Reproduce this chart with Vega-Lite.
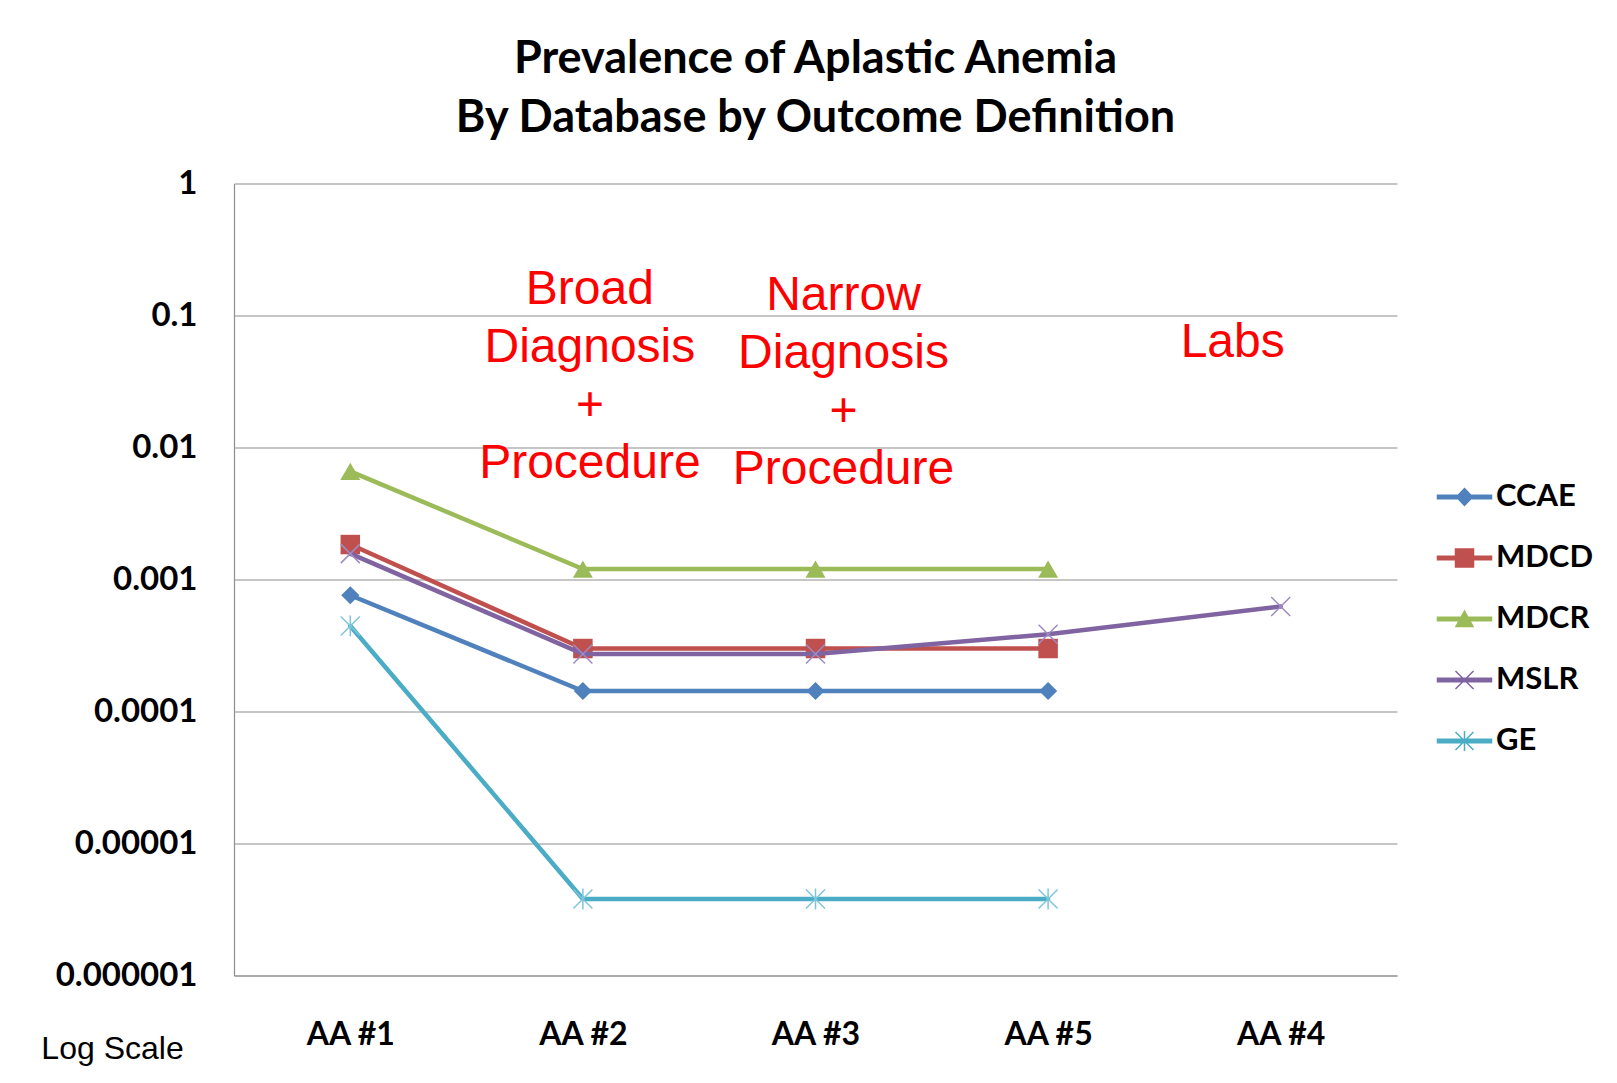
{
  "$schema": "https://vega.github.io/schema/vega-lite/v6.json",
  "width": 1163,
  "height": 792,
  "autosize": {"type": "none"},
  "padding": {"left": 234, "top": 183.5, "right": 220, "bottom": 107.5},
  "background": "white",
  "title": {
    "text": ["Prevalence of Aplastic Anemia", "By Database by Outcome Definition"],
    "font": "Lato", "fontSize": 45, "fontWeight": "bold", "color": "black",
    "lineHeight": 59, "offset": 27, "anchor": "middle"
  },
  "config": {"view": {"stroke": null}},
  "datasets": {
    "prev": [
      {"outcome": "AA #1", "series": "CCAE", "value": 0.00076},
      {"outcome": "AA #2", "series": "CCAE", "value": 0.000143},
      {"outcome": "AA #3", "series": "CCAE", "value": 0.000143},
      {"outcome": "AA #5", "series": "CCAE", "value": 0.000143},
      {"outcome": "AA #1", "series": "MDCD", "value": 0.00184},
      {"outcome": "AA #2", "series": "MDCD", "value": 0.0003},
      {"outcome": "AA #3", "series": "MDCD", "value": 0.0003},
      {"outcome": "AA #5", "series": "MDCD", "value": 0.0003},
      {"outcome": "AA #1", "series": "MDCR", "value": 0.0066},
      {"outcome": "AA #2", "series": "MDCR", "value": 0.0012},
      {"outcome": "AA #3", "series": "MDCR", "value": 0.0012},
      {"outcome": "AA #5", "series": "MDCR", "value": 0.0012},
      {"outcome": "AA #1", "series": "MSLR", "value": 0.00157},
      {"outcome": "AA #2", "series": "MSLR", "value": 0.000273},
      {"outcome": "AA #3", "series": "MSLR", "value": 0.000273},
      {"outcome": "AA #5", "series": "MSLR", "value": 0.000385},
      {"outcome": "AA #4", "series": "MSLR", "value": 0.000625},
      {"outcome": "AA #1", "series": "GE", "value": 0.000445},
      {"outcome": "AA #2", "series": "GE", "value": 0.0000038},
      {"outcome": "AA #3", "series": "GE", "value": 0.0000038},
      {"outcome": "AA #5", "series": "GE", "value": 0.0000038}
    ]
  },
  "encoding": {
    "x": {
      "field": "outcome", "type": "nominal",
      "sort": ["AA #1", "AA #2", "AA #3", "AA #5", "AA #4"],
      "scale": {"type": "point", "padding": 0.5},
      "axis": {
        "title": null, "labelAngle": 0, "ticks": false, "grid": false,
        "domain": true, "domainColor": "#8E8E8E", "domainWidth": 1.2,
        "labelFont": "Lato", "labelFontWeight": "bold", "labelFontSize": 32,
        "labelColor": "black", "labelPadding": 44
      }
    },
    "y": {
      "field": "value", "type": "quantitative",
      "scale": {"type": "log", "domain": [0.000001, 1]},
      "axis": {
        "values": [0.000001, 0.00001, 0.0001, 0.001, 0.01, 0.1, 1],
        "format": ".6~f",
        "grid": true, "gridColor": "#8E8E8E", "gridWidth": 1.2,
        "domain": true, "domainColor": "#8E8E8E", "domainWidth": 1.2,
        "ticks": false,
        "labelFont": "Lato", "labelFontWeight": "bold", "labelFontSize": 33,
        "labelColor": "black", "labelPadding": 37,
        "title": "Log Scale", "titleAngle": 0, "titleX": -122, "titleY": 864.5,
        "titleAlign": "center", "titleBaseline": "middle",
        "titleFont": "Liberation Sans", "titleFontWeight": "normal",
        "titleFontSize": 32, "titleColor": "black"
      }
    }
  },
  "layer": [
    {
      "data": {"name": "prev"},
      "transform": [{"filter": "datum.series === 'CCAE'"}],
      "mark": {"type": "line", "color": "#4F81BD", "strokeWidth": 4.5, "strokeJoin": "round", "strokeCap": "round",
        "point": {"shape": "diamond", "filled": true, "size": 330, "color": "#4F81BD"}}
    },
    {
      "data": {"name": "prev"},
      "transform": [{"filter": "datum.series === 'MDCD'"}],
      "mark": {"type": "line", "color": "#C0504D", "strokeWidth": 4.5, "strokeJoin": "round", "strokeCap": "round",
        "point": {"shape": "square", "filled": true, "size": 380, "color": "#C0504D"}}
    },
    {
      "data": {"name": "prev"},
      "transform": [{"filter": "datum.series === 'MDCR'"}],
      "mark": {"type": "line", "color": "#9BBB59", "strokeWidth": 4.5, "strokeJoin": "round", "strokeCap": "round",
        "point": {"shape": "triangle-up", "filled": true, "size": 400, "color": "#9BBB59"}}
    },
    {
      "data": {"name": "prev"},
      "transform": [{"filter": "datum.series === 'MSLR'"}],
      "mark": {"type": "line", "color": "#8064A2", "strokeWidth": 4.5, "strokeJoin": "round", "strokeCap": "round",
        "point": {"shape": "M-1,-1L1,1M1,-1L-1,1", "filled": false, "strokeWidth": 1.5, "size": 361, "color": "#9F8BC2"}}
    },
    {
      "data": {"name": "prev"},
      "transform": [{"filter": "datum.series === 'GE'"}],
      "mark": {"type": "line", "color": "#4BACC6", "strokeWidth": 4.5, "strokeJoin": "round", "strokeCap": "round",
        "point": {"shape": "M-1,-1L1,1M1,-1L-1,1M0,-1.1L0,1.1", "filled": false, "strokeWidth": 1.5, "size": 361, "color": "#7FC6DA"}}
    },
    {
      "data": {"name": "prev"},
      "mark": {"type": "point", "filled": true, "opacity": 0, "size": 400},
      "encoding": {
        "color": {
          "field": "series", "type": "nominal",
          "scale": {"domain": ["CCAE", "MDCD", "MDCR", "MSLR", "GE"],
                    "range": ["#4F81BD", "#C0504D", "#9BBB59", "#8064A2", "#4BACC6"]},
          "legend": {
            "title": null, "orient": "none", "legendX": 1215, "legendY": 298, "padding": 0,
            "labelFont": "Lato", "labelFontWeight": "bold", "labelFontSize": 31, "labelColor": "black",
            "labelOffset": 16, "rowPadding": 29, "symbolSize": 400,
            "encode": {"symbols": {"update": {
              "fill": {"scale": "color", "field": "value"},
              "stroke": {"scale": "color", "field": "value"},
              "strokeWidth": {"value": 1.5},
              "opacity": {"value": 1}
            }}}
          }
        },
        "shape": {
          "field": "series", "type": "nominal",
          "scale": {"domain": ["CCAE", "MDCD", "MDCR", "MSLR", "GE"],
                    "range": [
                      "M-2.7,-0.18H2.7V0.18H-2.7ZM0,-0.85L0.8,0L0,0.85L-0.8,0Z",
                      "M-2.7,-0.18H2.7V0.18H-2.7ZM-0.9,-0.9H0.9V0.9H-0.9Z",
                      "M-2.7,-0.18H2.7V0.18H-2.7ZM0,-0.8L0.85,0.75L-0.85,0.75Z",
                      "M-2.7,-0.18H2.7V0.18H-2.7ZM-0.9,-0.9L0.9,0.9M0.9,-0.9L-0.9,0.9",
                      "M-2.7,-0.18H2.7V0.18H-2.7ZM-0.9,-0.9L0.9,0.9M0.9,-0.9L-0.9,0.9M0,-1L0,1"
                    ]},
          "legend": {
            "title": null, "orient": "none", "legendX": 1215, "legendY": 298, "padding": 0,
            "labelFont": "Lato", "labelFontWeight": "bold", "labelFontSize": 31, "labelColor": "black",
            "labelOffset": 16, "rowPadding": 29, "symbolSize": 400
          }
        }
      }
    },
    {
      "data": {"values": [{"outcome": "AA #2", "value": 0.1568, "note": "Broad\nDiagnosis\n+\nProcedure"}]},
      "mark": {"type": "text", "font": "Liberation Sans", "fontSize": 48, "color": "#FF0000",
               "lineBreak": "\n", "lineHeight": 58, "dx": 7, "align": "center", "baseline": "middle"},
      "encoding": {"text": {"field": "note"}}
    },
    {
      "data": {"values": [{"outcome": "AA #3", "value": 0.1405, "note": "Narrow\nDiagnosis\n+\nProcedure"}]},
      "mark": {"type": "text", "font": "Liberation Sans", "fontSize": 48, "color": "#FF0000",
               "lineBreak": "\n", "lineHeight": 58, "dx": 28, "align": "center", "baseline": "middle"},
      "encoding": {"text": {"field": "note"}}
    },
    {
      "data": {"values": [{"outcome": "AA #4", "value": 0.0619, "note": "Labs"}]},
      "mark": {"type": "text", "font": "Liberation Sans", "fontSize": 48, "color": "#FF0000",
               "dx": -48, "align": "center", "baseline": "middle"},
      "encoding": {"text": {"field": "note"}}
    }
  ]
}
